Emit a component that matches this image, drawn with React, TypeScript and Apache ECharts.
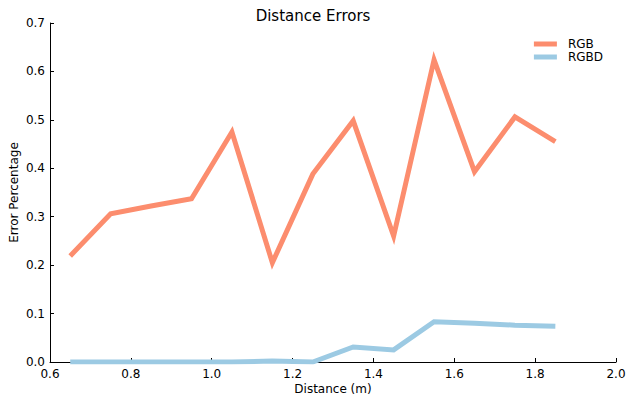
import React, { useEffect, useRef } from "react";
import * as echarts from "echarts";

const xValues = [0.65, 0.75, 0.85, 0.95, 1.05, 1.15, 1.25, 1.35, 1.45, 1.55, 1.65, 1.75, 1.85];
const rgbValues = [0.219, 0.306, 0.322, 0.337, 0.475, 0.205, 0.388, 0.498, 0.26, 0.624, 0.393, 0.506, 0.455];
const rgbdValues = [0, 0, 0, 0, 0, 0.002, 0, 0.031, 0.025, 0.083, 0.08, 0.076, 0.074];
const seriesNames = ["RGB", "RGBD"];
const seriesColors = ["#fc8d6e", "#9ccae3"];

const FONT = "DejaVu Sans";

export default function App() {
  const ref = useRef<HTMLDivElement>(null);
  useEffect(() => {
    if (!ref.current) return;
    const chart = echarts.init(ref.current, undefined, { renderer: "svg" });
    const mk = (vals: number[]) => xValues.map((x, i) => [x, vals[i]]);
    const axisCommon = {
      axisLine: { show: true, lineStyle: { color: "#000", width: 1 } },
      axisTick: { show: true, inside: true, length: 4, lineStyle: { color: "#000" } },
      splitLine: { show: false },
      nameMoveOverlap: false,
      nameTextStyle: { fontFamily: FONT, fontSize: 12, color: "#000" },
    };
    chart.setOption({
      animation: false,
      backgroundColor: "#fff",
      title: {
        text: "Distance Errors",
        left: "center",
        top: 3,
        textStyle: { fontFamily: FONT, fontSize: 15, fontWeight: "normal", color: "#000" },
      },
      legend: {
        orient: "vertical",
        right: 18,
        top: 33,
        itemWidth: 23,
        itemHeight: 5,
        itemGap: 1,
        icon: "rect",
        textStyle: { fontFamily: FONT, fontSize: 12, lineHeight: 11, color: "#000", padding: [0, 0, 0, 6] },
        data: seriesNames,
      },
      grid: { left: 50, right: 10, top: 23, bottom: 39, containLabel: false, outerBoundsMode: "none" },
      xAxis: {
        type: "value",
        min: 0.6,
        max: 2.0,
        interval: 0.2,
        name: "Distance (m)",
        nameLocation: "middle",
        nameGap: 21,
        ...axisCommon,
        axisLabel: {
          fontFamily: FONT,
          fontSize: 12,
          color: "#000",
          margin: 6,
          formatter: (v: number) => v.toFixed(1),
        },
      },
      yAxis: {
        type: "value",
        min: 0,
        max: 0.7,
        interval: 0.1,
        name: "Error Percentage",
        nameLocation: "middle",
        nameGap: 30,
        ...axisCommon,
        axisLabel: {
          fontFamily: FONT,
          fontSize: 12,
          color: "#000",
          margin: 5,
          formatter: (v: number) => v.toFixed(1),
        },
      },
      series: [
        {
          name: seriesNames[0],
          type: "line",
          data: mk(rgbValues),
          showSymbol: false,
          color: seriesColors[0],
          lineStyle: { width: 5, color: seriesColors[0], join: "miter", cap: "butt" },
          z: 3,
        },
        {
          name: seriesNames[1],
          type: "line",
          data: mk(rgbdValues),
          showSymbol: false,
          color: seriesColors[1],
          lineStyle: { width: 5, color: seriesColors[1], join: "miter", cap: "butt" },
          z: 2,
        },
      ],
    });
    return () => chart.dispose();
  }, []);
  return (
    <div style={{ position: "fixed", left: 0, top: 0, width: 626, height: 401, background: "#fff" }}>
      <div ref={ref} style={{ width: 626, height: 401 }} />
    </div>
  );
}
